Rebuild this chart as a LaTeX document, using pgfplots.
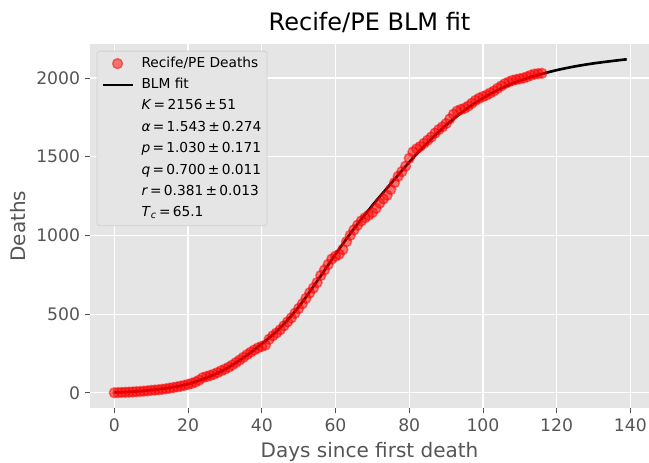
\documentclass[border=0pt]{standalone}
\usepackage{fontspec}
\setmainfont{DejaVu Sans}
\usepackage{pgfplots}
\usepackage{pgfplotstable}
\pgfplotsset{compat=1.18}

\definecolor{panel}{HTML}{E5E5E5}
\definecolor{ink}{HTML}{555555}
\definecolor{legedge}{HTML}{D1D1D1}

\pgfplotsset{
  dotlegend/.style={legend image code/.code={\draw[mark repeat=2,mark phase=2,##1] plot coordinates {(0pt,0pt) (10.8pt,0pt) (21.6pt,0pt)};}},
  linelegend/.style={legend image code/.code={\draw[##1] (0pt,0pt) -- (21.6pt,0pt);}},
  nolegend/.style={legend image code/.code={}},
}

% cumulative deaths, one row per day
\pgfplotstableread{
day deaths
0 0
1 1
2 2
3 3
4 4
5 5
6 7
7 8
8 10
9 12
10 15
11 17
12 19
13 22
14 25
15 29
16 33
17 37
18 42
19 47
20 53
21 60
22 68
23 80
24 96
25 103
26 110
27 118
28 128
29 140
30 150
31 162
32 176
33 192
34 208
35 225
36 242
37 258
38 272
39 285
40 295
41 303
42 340
43 362
44 380
45 400
46 425
47 450
48 475
49 505
50 535
51 565
52 600
53 635
54 665
55 700
56 745
57 780
58 815
59 850
60 868
61 880
62 910
63 960
64 1000
65 1035
66 1065
67 1092
68 1112
69 1128
70 1145
71 1172
72 1205
73 1232
74 1255
75 1292
76 1335
77 1375
78 1405
79 1440
80 1490
81 1530
82 1550
83 1565
84 1585
85 1605
86 1625
87 1650
88 1672
89 1690
90 1710
91 1740
92 1770
93 1790
94 1800
95 1808
96 1822
97 1840
98 1858
99 1872
100 1882
101 1892
102 1905
103 1918
104 1935
105 1950
106 1965
107 1975
108 1985
109 1990
110 1995
111 2000
112 2008
113 2018
114 2025
115 2028
116 2030
}\deaths

% BLM fit curve
\pgfplotstableread{
day fit
0 2
5 7
10 17
15 32
20 55
25 95
30 148
35 222
40 310
45 412
50 545
55 708
60 880
65 1042
70 1190
75 1328
80 1465
85 1590
90 1700
95 1795
100 1872
105 1935
110 1983
115 2020
120 2050
125 2074
130 2093
135 2108
139 2119
}\fit

\begin{document}
\begin{tikzpicture}
\begin{axis}[
  name=ax,
  width=402.5pt, height=262.3pt, scale only axis,
  xmin=-6.6, xmax=145.05, ymin=-99, ymax=2216,
  axis background/.style={fill=panel},
  axis line style={draw=none},
  grid=major, major grid style={white, line width=0.8pt},
  xtick={0,20,...,140}, ytick={0,500,...,2000},
  xtick pos=bottom, ytick pos=left,
  tick align=outside, major tick length=3.6pt,
  tick style={ink, line width=0.6pt},
  ticklabel style={font=\fontsize{12.4}{14}\selectfont, text=ink},
  /pgf/number format/assume math mode=true,
  /pgf/number format/1000 sep={},
  xlabel={Days since first death}, ylabel={Deaths},
  every axis x label/.style={at={(axis description cs:0.5,-0.1209)}, anchor=center, font=\fontsize{14.4}{17}\selectfont, text=ink},
  every axis y label/.style={at={(axis description cs:-0.1287,0.5)}, rotate=90, anchor=center, font=\fontsize{14.4}{17}\selectfont, text=ink},
  title={Recife/PE BLM fit},
  every axis title/.style={at={(axis description cs:0.5,1.0602)}, anchor=center, font=\fontsize{17.3}{20}\selectfont},
  legend cell align=left,
  legend style={at={(axis description cs:0.0119,0.9817)}, anchor=north west,
    fill=panel, draw=legedge, line width=0.6pt, rounded corners=2pt,
    inner xsep=3pt, inner ysep=3pt, row sep=3.4pt, column sep=4.5pt,
    font=\fontsize{9.9}{12}\selectfont,
    nodes={inner sep=1pt, text height=7.5pt, text depth=2.5pt}},
]
\addplot[only marks, mark=*, mark size=3.6pt,
  mark options={fill=red, draw=red, fill opacity=0.5, draw opacity=0.5, line width=1pt},
  dotlegend]
  table[x=day, y=deaths] {\deaths};
\addlegendentry{Recife/PE Deaths}
\addplot[black, line width=1.9pt, smooth, linelegend]
  table[x=day, y=fit] {\fit};
\addlegendentry{BLM fit}
\addlegendimage{nolegend}
\addlegendentry{\textit{K}\,=\,2156\,±\,51}
\addlegendimage{nolegend}
\addlegendentry{\textit{α}\,=\,1.543\,±\,0.274}
\addlegendimage{nolegend}
\addlegendentry{\textit{p}\,=\,1.030\,±\,0.171}
\addlegendimage{nolegend}
\addlegendentry{\textit{q}\,=\,0.700\,±\,0.011}
\addlegendimage{nolegend}
\addlegendentry{\textit{r}\,=\,0.381\,±\,0.013}
\addlegendimage{nolegend}
\addlegendentry{\textit{T}\textsubscript{\textit{c}}\,=\,65.1}
\end{axis}
\pgfresetboundingbox
\path[use as bounding box] ([xshift=-64.8pt,yshift=-38.9pt]ax.south west) rectangle ([yshift=31.7pt]ax.north east);
\end{tikzpicture}
\end{document}
